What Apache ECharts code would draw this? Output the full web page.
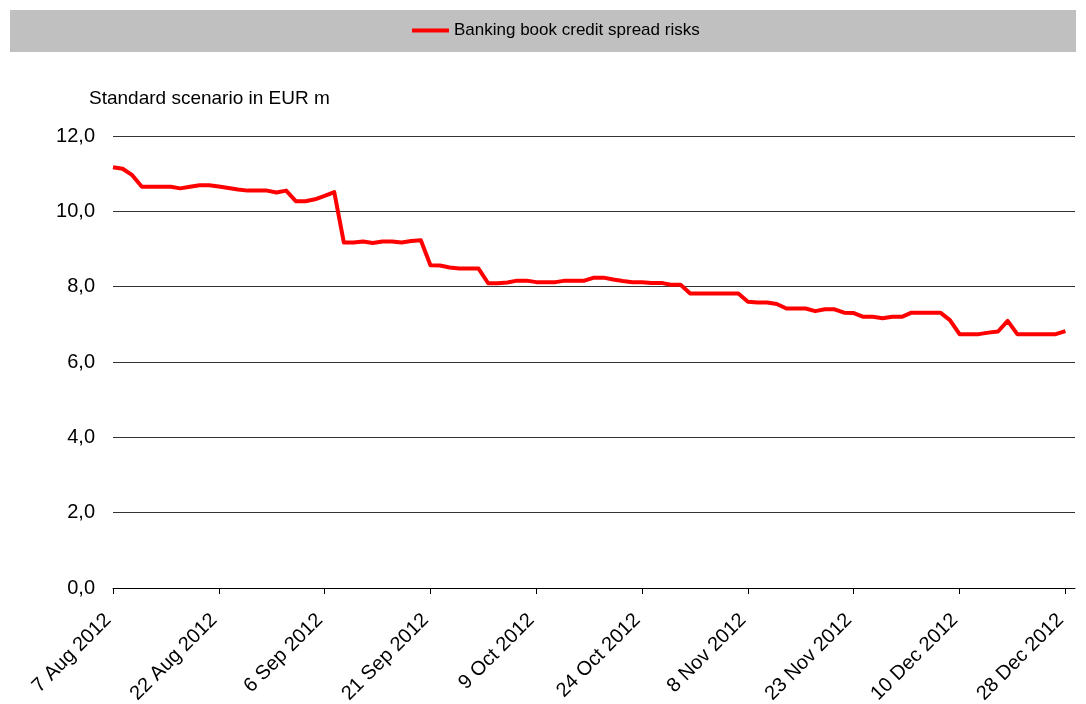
<!DOCTYPE html>
<html>
<head>
<meta charset="utf-8">
<script src="https://cdn.jsdelivr.net/npm/echarts@6/dist/echarts.min.js"></script>
<style>
  html, body { margin: 0; padding: 0; background: #fff; }
  #chart { width: 1086px; height: 704px; }
</style>
</head>
<body>
<div id="chart"></div>
<script>
// Trading days, 7 Aug 2012 – 31 Dec 2012 (German bank holidays excluded)
const dates = [
  '7 Aug 2012','8 Aug 2012','9 Aug 2012','10 Aug 2012','13 Aug 2012','14 Aug 2012','15 Aug 2012','16 Aug 2012','17 Aug 2012','20 Aug 2012',
  '21 Aug 2012','22 Aug 2012','23 Aug 2012','24 Aug 2012','27 Aug 2012','28 Aug 2012','29 Aug 2012','30 Aug 2012','31 Aug 2012',
  '3 Sep 2012','4 Sep 2012','5 Sep 2012','6 Sep 2012','7 Sep 2012','10 Sep 2012','11 Sep 2012','12 Sep 2012','13 Sep 2012','14 Sep 2012',
  '17 Sep 2012','18 Sep 2012','19 Sep 2012','20 Sep 2012','21 Sep 2012','24 Sep 2012','25 Sep 2012','26 Sep 2012','27 Sep 2012','28 Sep 2012',
  '1 Oct 2012','2 Oct 2012','4 Oct 2012','5 Oct 2012','8 Oct 2012','9 Oct 2012','10 Oct 2012','11 Oct 2012','12 Oct 2012','15 Oct 2012',
  '16 Oct 2012','17 Oct 2012','18 Oct 2012','19 Oct 2012','22 Oct 2012','23 Oct 2012','24 Oct 2012','25 Oct 2012','26 Oct 2012','29 Oct 2012',
  '30 Oct 2012','31 Oct 2012',
  '1 Nov 2012','2 Nov 2012','5 Nov 2012','6 Nov 2012','7 Nov 2012','8 Nov 2012','9 Nov 2012','12 Nov 2012','13 Nov 2012','14 Nov 2012',
  '15 Nov 2012','16 Nov 2012','19 Nov 2012','20 Nov 2012','21 Nov 2012','22 Nov 2012','23 Nov 2012','26 Nov 2012','27 Nov 2012','28 Nov 2012',
  '29 Nov 2012','30 Nov 2012',
  '3 Dec 2012','4 Dec 2012','5 Dec 2012','6 Dec 2012','7 Dec 2012','10 Dec 2012','11 Dec 2012','12 Dec 2012','13 Dec 2012','14 Dec 2012',
  '17 Dec 2012','18 Dec 2012','19 Dec 2012','20 Dec 2012','21 Dec 2012','27 Dec 2012','28 Dec 2012','31 Dec 2012'
];

// Banking book credit spread risks, standard scenario, EUR m
const creditSpreadRisk = [
  11.17, 11.13, 10.96, 10.65, 10.65, 10.65, 10.65, 10.61, 10.65, 10.69,
  10.69, 10.66, 10.62, 10.58, 10.55, 10.55, 10.55, 10.50, 10.55, 10.27,
  10.27, 10.32, 10.41, 10.51, 9.17, 9.17, 9.20, 9.16, 9.20, 9.20,
  9.17, 9.21, 9.23, 8.57, 8.56, 8.51, 8.48, 8.48, 8.48, 8.09,
  8.09, 8.11, 8.16, 8.16, 8.12, 8.12, 8.12, 8.16, 8.16, 8.16,
  8.24, 8.24, 8.19, 8.15, 8.12, 8.12, 8.10, 8.10, 8.05, 8.05,
  7.82, 7.82, 7.82, 7.82, 7.82, 7.82, 7.60, 7.58, 7.58, 7.54,
  7.42, 7.42, 7.42, 7.35, 7.40, 7.40, 7.31, 7.30, 7.20, 7.20,
  7.16, 7.20, 7.20, 7.31, 7.31, 7.31, 7.31, 7.11, 6.74, 6.74,
  6.74, 6.78, 6.81, 7.09, 6.74, 6.74, 6.74, 6.74, 6.74, 6.82,
  null
];

const seriesName = 'Banking book credit spread risks';
const yAxisTitle = 'Standard scenario in EUR m';

const chart = echarts.init(document.getElementById('chart'), null, { renderer: 'canvas' });

const fontFamily = '"Liberation Sans", Arial, sans-serif';

chart.setOption({
  animation: false,
  backgroundColor: '#ffffff',
  graphic: [
    {
      type: 'rect',
      left: 10, top: 10,
      shape: { width: 1066, height: 42 },
      style: { fill: '#c0c0c0' },
      z: -10
    },
    {
      type: 'text',
      left: 89, top: 89,
      style: { text: yAxisTitle, fill: '#000', font: '19px ' + fontFamily }
    }
  ],
  legend: {
    data: [seriesName],
    left: 412,
    top: 22,
    padding: 0,
    icon: 'rect',
    itemWidth: 37,
    itemHeight: 4,
    textStyle: { color: '#000', fontSize: 17, fontFamily: fontFamily }
  },
  grid: {
    left: 113, right: 11, top: 136, bottom: 116,
    containLabel: false,
    outerBoundsMode: 'none'
  },
  xAxis: {
    type: 'category',
    data: dates,
    boundaryGap: false,
    axisLine: { lineStyle: { color: '#000', width: 1 } },
    axisTick: { interval: 10, length: 6, lineStyle: { color: '#000' } },
    axisLabel: {
      interval: 10,
      rotate: 45,
      color: '#000',
      fontSize: 20,
      fontFamily: fontFamily,
      margin: 24,
      padding: [0, 7, 0, 0]
    },
    splitLine: { show: false }
  },
  yAxis: {
    type: 'value',
    min: 0,
    max: 12,
    interval: 2,
    axisLine: { show: false },
    axisTick: { show: false },
    axisLabel: {
      color: '#000',
      fontSize: 20,
      fontFamily: fontFamily,
      margin: 18,
      formatter: v => v.toFixed(1).replace('.', ',')
    },
    splitLine: { lineStyle: { color: '#333', width: 1 } }
  },
  series: [
    {
      name: seriesName,
      type: 'line',
      data: creditSpreadRisk,
      showSymbol: false,
      symbol: 'none',
      connectNulls: false,
      lineStyle: { color: '#ff0000', width: 4, join: 'round' },
      itemStyle: { color: '#ff0000' }
    }
  ]
});
</script>
</body>
</html>
